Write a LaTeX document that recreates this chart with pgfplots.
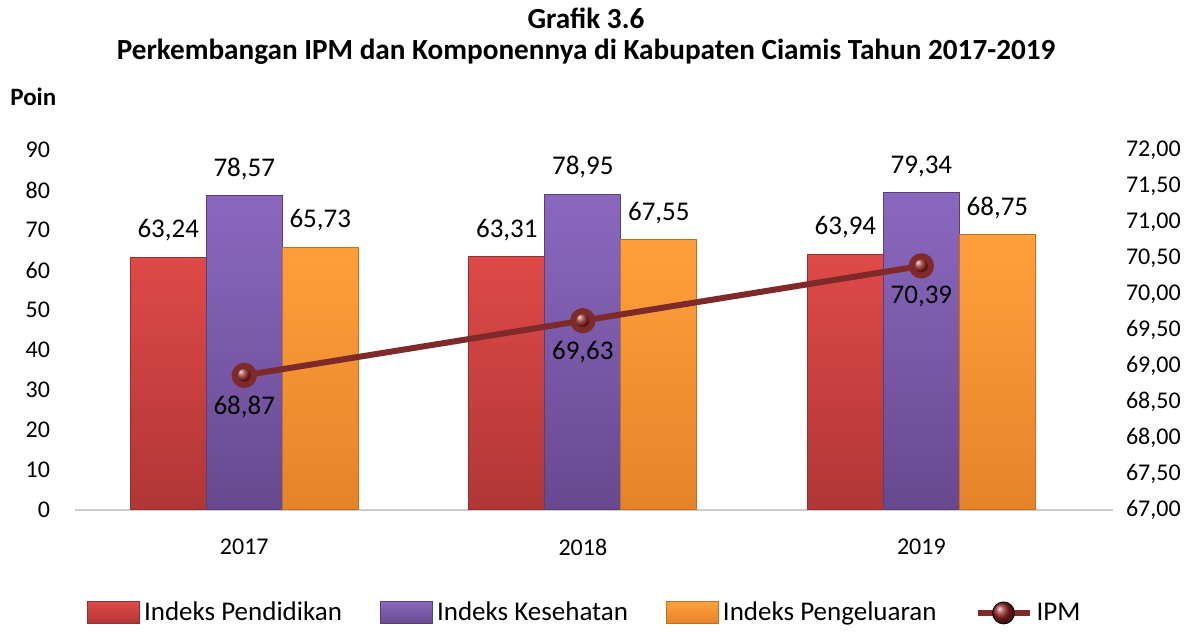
\documentclass[border=0pt]{standalone}
\usepackage{pgfplots}
\pgfplotsset{compat=1.18}
\usepackage{fontspec}
\setmainfont{Carlito}
\usetikzlibrary{shadings}
\definecolor{redtop}{HTML}{DE4A48}
\definecolor{redbot}{HTML}{B03636}
\definecolor{redline}{HTML}{943030}
\definecolor{purtop}{HTML}{8B68BF}
\definecolor{purbot}{HTML}{68498F}
\definecolor{purline}{HTML}{56407A}
\definecolor{orgtop}{HTML}{FFA03C}
\definecolor{orgbot}{HTML}{E5832A}
\definecolor{orgline}{HTML}{C46E22}
\definecolor{ipmcol}{HTML}{7E2A2A}
\definecolor{ballcol}{HTML}{8E2222}
\begin{document}
\begin{tikzpicture}
\path (-37.5pt,-60.5pt) rectangle (558pt,255pt);
\begin{axis}[
  at={(0,0)}, anchor=south west, scale only axis,
  width=519pt, height=180pt,
  xmin=-0.5, xmax=2.566, ymin=0, ymax=90,
  ybar=0pt, bar width=38pt,
  xtick={0,1,2}, xticklabels={2017,2018,2019},
  ytick={0,10,20,30,40,50,60,70,80,90},
  axis y line*=left, axis x line*=bottom,
  y axis line style={draw=none},
  x axis line style={draw=gray!40, line width=1.2pt, -},
  major tick length=0pt,
  tick label style={font=\fontsize{12}{14}\selectfont},
  /pgf/number format/assume math mode=true,
  yticklabel style={xshift=-9pt},
  xticklabel style={yshift=-11pt},
  nodes near coords={\pgfmathprintnumber[fixed,fixed zerofill,precision=2,use comma,assume math mode=true]{\pgfplotspointmeta}},
  every node near coord/.append style={font=\fontsize{13.5}{15}\selectfont, yshift=4.5pt, black},
  legend columns=4,
  legend style={at={(0.492,-0.286)}, anchor=center, draw=none, fill=none,
    font=\fontsize{13.5}{15}\selectfont,
    /tikz/every even column/.append style={column sep=17pt}},
  legend image code/.code={\draw[#1,line width=0.5pt] (0pt,-5.5pt) rectangle (26pt,5.5pt);},
]
\addplot[top color=redtop, bottom color=redbot, draw=redline, line width=0.5pt] coordinates {(0,63.24) (1,63.31) (2,63.94)};
\addlegendentry{Indeks Pendidikan}
\addplot[top color=purtop, bottom color=purbot, draw=purline, line width=0.5pt] coordinates {(0,78.57) (1,78.95) (2,79.34)};
\addlegendentry{Indeks Kesehatan}
\addplot[top color=orgtop, bottom color=orgbot, draw=orgline, line width=0.5pt] coordinates {(0,65.73) (1,67.55) (2,68.75)};
\addlegendentry{Indeks Pengeluaran}
\addlegendimage{legend image code/.code={\draw[ipmcol, line width=3pt] (0pt,0pt)--(26pt,0pt); \shade[ball color=ballcol] (13pt,0pt) circle (5.5pt);}}
\addlegendentry{IPM}
\end{axis}
\begin{axis}[
  at={(0,0)}, anchor=south west, scale only axis,
  width=519pt, height=180pt,
  xmin=-0.5, xmax=2.566, ymin=67, ymax=72,
  axis y line*=right, axis x line=none,
  y axis line style={draw=none},
  major tick length=0pt,
  ytick={67,67.5,68,68.5,69,69.5,70,70.5,71,71.5,72},
  yticklabel={\pgfmathprintnumber[fixed,fixed zerofill,precision=2,use comma,assume math mode=true]{\tick}},
  yticklabel style={xshift=3pt, font=\fontsize{12}{14}\selectfont},
  nodes near coords={\pgfmathprintnumber[fixed,fixed zerofill,precision=2,use comma,assume math mode=true]{\pgfplotspointmeta}},
  every node near coord/.append style={font=\fontsize{13.5}{15}\selectfont, anchor=north, yshift=-5.4pt, black},
]
\addplot[ipmcol, line width=3pt, mark=ball, mark size=4.8pt, mark options={ball color=ballcol}] coordinates {(0,68.87) (1,69.63) (2,70.39)};
\end{axis}
\node[font=\bfseries\fontsize{14.6}{17}\selectfont] at (255.5pt,246pt) {Grafik 3.6};
\node[font=\bfseries\fontsize{14.6}{17}\selectfont] at (255.5pt,229pt) {Perkembangan IPM dan Komponennya di Kabupaten Ciamis Tahun 2017-2019};
\node[font=\bfseries\fontsize{12.5}{14}\selectfont, anchor=west, inner sep=0pt] at (-32.5pt,206.5pt) {Poin};
\end{tikzpicture}
\end{document}
